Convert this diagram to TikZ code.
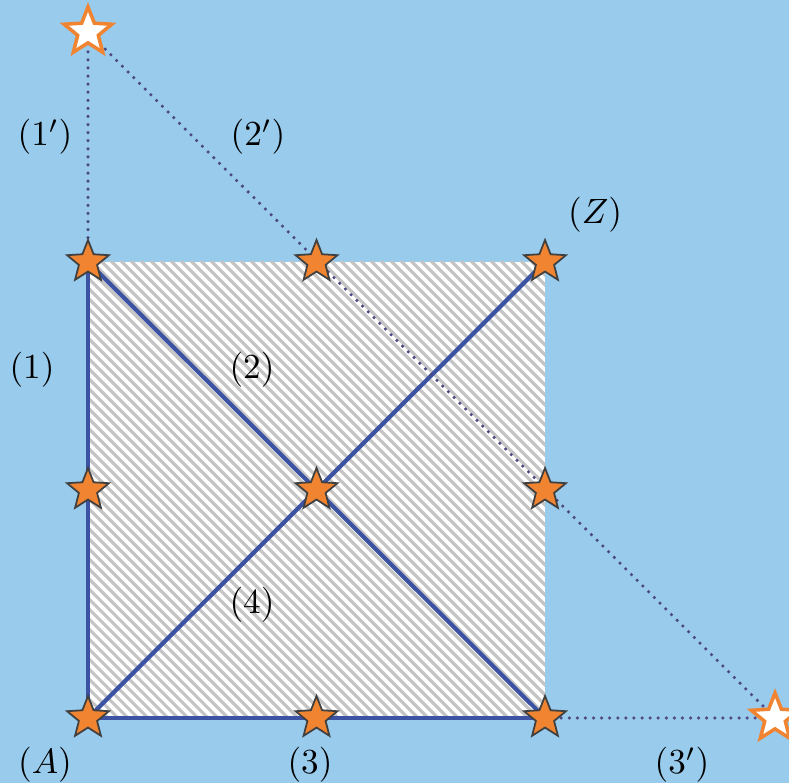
\documentclass[tikz,border=0pt]{standalone}
\usetikzlibrary{calc,shapes.geometric}
\definecolor{skyback}{RGB}{152,203,236}
\definecolor{edgeblue}{RGB}{60,82,162}
\definecolor{dotpurple}{RGB}{78,72,132}
\definecolor{starorange}{RGB}{240,132,48}
\definecolor{hatchgray}{RGB}{196,196,196}
\tikzset{
  solidstar/.style={star, star points=5, star point ratio=2.3, minimum size=0.44cm,
    inner sep=0pt, fill=starorange, draw=black!75, line width=0.5pt},
  hollowstar/.style={star, star points=5, star point ratio=2.3, minimum size=0.5cm,
    inner sep=0pt, fill=white, draw=starorange, line width=1pt},
  edgeline/.style={edgeblue, line width=1.2pt},
  dotline/.style={dotpurple, line width=1pt, line cap=round, dash pattern=on 0pt off 2.3pt},
  lbl/.style={inner sep=1pt}
}
\begin{document}
\begin{tikzpicture}
    % background
    \fill[skyback] (0,0) rectangle (7.89,7.83);
    \useasboundingbox (0,0) rectangle (7.89,7.83);

    % square corners
    \coordinate (A) at (0.88,0.65);
    \coordinate (B) at (5.45,0.65);
    \coordinate (Z) at (5.45,5.21);
    \coordinate (D) at (0.88,5.21);
    \coordinate (M) at ($(A)!0.5!(Z)$);

    % outer points
    \coordinate (P) at (0.88,7.51);
    \coordinate (Q) at (7.75,0.65);

    % hatched square
    \fill[white] (A) rectangle (Z);
    \begin{scope}
        \clip (A) rectangle (Z);
        \foreach \s in {0,0.1,...,9.2}
            \draw[hatchgray, line width=0.9pt] (0.88+\s,0.65) -- ++(-4.7,4.7);
    \end{scope}

    % solid edges and diagonals
    \draw[edgeline] (D) -- (A) -- (B);
    \draw[edgeline] (D) -- (B);
    \draw[edgeline] (A) -- (Z);

    % dotted extensions
    \draw[dotline] (D) -- (P);
    \draw[dotline] (P) -- (Q);
    \draw[dotline] (B) -- (Q);

    % stars
    \node[solidstar] (sA) at (A) {};
    \node[solidstar] (sB) at (B) {};
    \node[solidstar] (sZ) at (Z) {};
    \node[solidstar] (sD) at (D) {};
    \node[solidstar] (sM) at (M) {};
    \node[solidstar] (sL) at ($(A)!0.5!(D)$) {};
    \node[solidstar] (sR) at ($(B)!0.5!(Z)$) {};
    \node[solidstar] (sT) at ($(D)!0.5!(Z)$) {};
    \node[solidstar] (sS) at ($(A)!0.5!(B)$) {};
    \node[hollowstar] (sP) at (P) {};
    \node[hollowstar] (sQ) at (Q) {};

    % labels
    \node[lbl] (l1p) at (0.45,6.46) {$(1')$};
    \node[lbl] (l2p) at (2.58,6.46) {$(2')$};
    \node[lbl] (lZ) at (5.95,5.68) {$(Z)$};
    \node[lbl] (l1) at (0.32,4.13) {$(1)$};
    \node[lbl] (l2) at (2.52,4.13) {$(2)$};
    \node[lbl] (l4) at (2.52,1.78) {$(4)$};
    \node[lbl] (lA) at (0.45,0.18) {$(A)$};
    \node[lbl] (l3) at (3.10,0.18) {$(3)$};
    \node[lbl] (l3p) at (6.82,0.18) {$(3')$};
\end{tikzpicture}
\end{document}
